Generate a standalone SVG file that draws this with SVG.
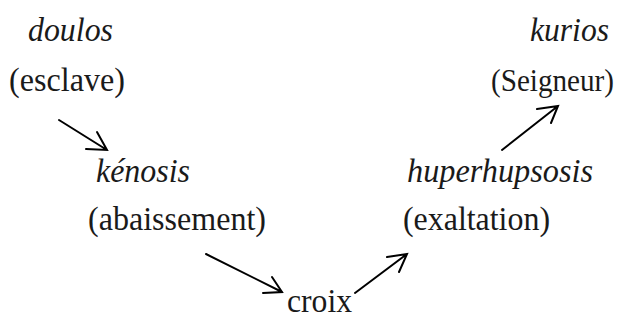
<svg xmlns="http://www.w3.org/2000/svg" width="630" height="321" viewBox="0 0 630 321">
<style>
text{font-family:"Liberation Serif","Times New Roman",serif;font-size:34px;fill:#1a1a1a}
.it{font-style:italic}
.c{fill:none;stroke:#000;stroke-width:2;stroke-linecap:round;stroke-linejoin:miter}
</style>
<rect width="630" height="321" fill="#fff"/>
<g id="doulos"><text class="it" x="28" y="41" textLength="85" lengthAdjust="spacingAndGlyphs">doulos</text><text x="9" y="91" textLength="116" lengthAdjust="spacingAndGlyphs">(esclave)</text></g>
<g id="kenosis"><text class="it" x="96" y="182" textLength="94" lengthAdjust="spacingAndGlyphs">kénosis</text><text x="88" y="230" textLength="178" lengthAdjust="spacingAndGlyphs">(abaissement)</text></g>
<g id="croix"><text x="287" y="312" textLength="65" lengthAdjust="spacingAndGlyphs">croix</text></g>
<g id="huperhupsosis"><text class="it" x="407" y="182" textLength="186" lengthAdjust="spacingAndGlyphs">huperhupsosis</text><text x="403" y="230" textLength="147" lengthAdjust="spacingAndGlyphs">(exaltation)</text></g>
<g id="kurios"><text class="it" x="530" y="41" textLength="79" lengthAdjust="spacingAndGlyphs">kurios</text><text x="491" y="91" style="font-size:32px" textLength="123" lengthAdjust="spacingAndGlyphs">(Seigneur)</text></g>
<g id="connectors">
<path class="c" d="M59,120 L107,150 M86,149 L107,150 L97,132"/>
<path class="c" d="M206,254 L282,292 M263,293 L282,292 L272,277"/>
<path class="c" d="M355,293 L407,254 M387,257 L407,254 L399,272"/>
<path class="c" d="M502,150 L558,106 M537,109 L558,106 L551,123"/>
</g>
</svg>
